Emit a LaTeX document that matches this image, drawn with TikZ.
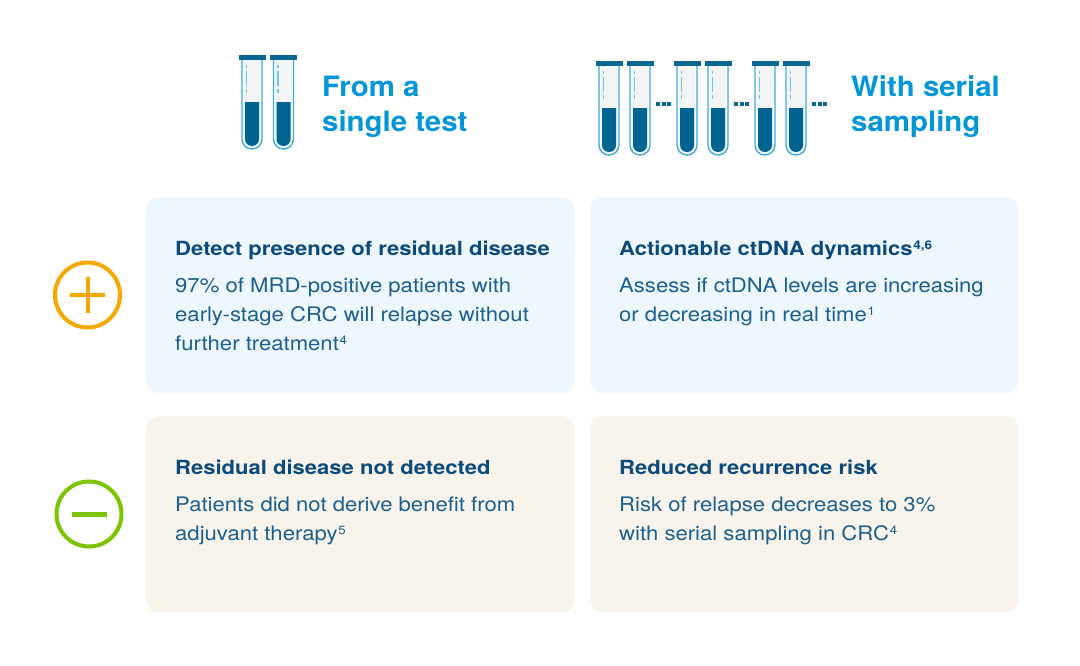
\documentclass[tikz,border=0pt]{standalone}
\usepackage{fontspec}
\setmainfont{TeX Gyre Heros}[FakeStretch=1.105]
\newfontfamily\titlefont{TeX Gyre Heros}[FakeStretch=1.13]
\newfontfamily\headfont{TeX Gyre Heros}[FakeStretch=1.05]
\definecolor{headblue}{HTML}{0096D8}
\definecolor{titleblue}{HTML}{0B4A7C}
\definecolor{bodyblue}{HTML}{1A5F8F}
\definecolor{boxblue}{HTML}{EEF7FD}
\definecolor{boxbeige}{HTML}{F8F4EC}
\definecolor{plusorange}{HTML}{F5A800}
\definecolor{minusgreen}{HTML}{7DC400}
\definecolor{capteal}{HTML}{0A6790}
\definecolor{liquidteal}{HTML}{006492}
\definecolor{glassline}{HTML}{3DAAE2}
\definecolor{glassfill}{HTML}{F2F4F6}
\definecolor{shine}{HTML}{6EC5EE}
\newcommand{\supnum}[1]{\kern0.8pt\raisebox{6pt}{\fontsize{12}{12}\selectfont #1}}
\tikzset{
  head/.style={font=\headfont\fontsize{28}{35}\selectfont\bfseries, text=headblue, inner sep=0pt, anchor=base west},
  title/.style={font=\titlefont\fontsize{19.5}{24}\selectfont\bfseries, text=titleblue, inner sep=0pt, anchor=base west},
  body/.style={font=\fontsize{20}{29}\selectfont, text=bodyblue, inner sep=0pt, anchor=base west},
  panel/.style={rounded corners=12pt, minimum width=428pt, minimum height=196pt, anchor=north west, inner sep=0pt},
  signring/.style={circle, line width=4pt, minimum size=65pt, inner sep=0pt},
  tubecap/.style={fill=capteal},
  tubeliquid/.style={fill=liquidteal},
  tubeglass/.style={fill=glassfill},
  tubeline/.style={draw=glassline, line width=1.4pt},
  tubeshine/.style={draw=shine, line width=1.3pt, dash pattern=on 3pt off 3pt on 15pt off 3pt on 4pt},
  testtube/.pic={
    \fill[tubeglass] (-8,5) -- (-8,84) arc[start angle=180,end angle=360,radius=8pt] -- (8,5) -- cycle;
    \fill[tubeliquid] (-7,47) -- (-7,84) arc[start angle=180,end angle=360,radius=7pt] -- (7,47) -- cycle;
    \draw[tubeline] (-10,5) -- (-10,84) arc[start angle=180,end angle=360,radius=10pt] -- (10,5);
    \draw[tubeshine] (-5.5,10) -- (-5.5,41);
    \fill[tubecap] (-13.5,0) rectangle (13.5,5);
  },
  dots/.pic={
    \fill[capteal] (0,0) rectangle (4,4);
    \fill[capteal] (5.5,0) rectangle (9.5,4);
    \fill[capteal] (11,0) rectangle (15,4);
  }
}
\begin{document}
\begin{tikzpicture}[x=1pt,y=-1pt]
\useasboundingbox[fill=white] (0,0) rectangle (1080,665);

% test tubes
\pic at (252,55) {testtube};
\pic at (283.5,55) {testtube};
\foreach \cx in {609,640,687,718,765,796} {\pic at (\cx,61) {testtube};}
\pic at (656,102) {dots};
\pic at (734,102) {dots};
\pic at (812,102) {dots};

% headings
\node[head] (h1a) at (322,96) {From a};
\node[head] (h1b) at (322,131) {single test};
\node[head] (h2a) at (851,96) {With serial};
\node[head] (h2b) at (851,131) {sampling};

% panels
\node[panel, fill=boxblue] (p1) at (146,197) {};
\node[panel, fill=boxblue] (p2) at (590,197) {};
\node[panel, fill=boxbeige] (p3) at (146,416) {};
\node[panel, fill=boxbeige] (p4) at (590,416) {};

% signs
\node[signring, draw=plusorange] (plus) at (87.5,295) {};
\draw[plusorange, line width=4pt] ([xshift=-17.5pt]plus.center) -- ([xshift=17.5pt]plus.center);
\draw[plusorange, line width=4pt] ([yshift=-18pt]plus.center) -- ([yshift=18pt]plus.center);
\node[signring, draw=minusgreen] (minus) at (89,514) {};
\draw[minusgreen, line width=5pt] ([xshift=-17.5pt]minus.center) -- ([xshift=17.5pt]minus.center);

% panel 1
\node[title] (t1) at (175,255) {Detect presence of residual disease};
\node[body] (t1a) at (175,292) {97\% of MRD-positive patients with};
\node[body] (t1b) at (175,321) {early-stage CRC will relapse without};
\node[body] (t1c) at (175,350) {further treatment\supnum{4}};

% panel 2
\node[title] (t2) at (619,255) {Actionable ctDNA dynamics\supnum{\bfseries 4,6}};
\node[body] (t2a) at (619,292) {Assess if ctDNA levels are increasing};
\node[body] (t2b) at (619,321) {or decreasing in real time\supnum{1}};

% panel 3
\node[title] (t3) at (175,474) {Residual disease not detected};
\node[body] (t3a) at (175,511) {Patients did not derive benefit from};
\node[body] (t3b) at (175,540) {adjuvant therapy\supnum{5}};

% panel 4
\node[title] (t4) at (619,474) {Reduced recurrence risk};
\node[body] (t4a) at (619,511) {Risk of relapse decreases to 3\%};
\node[body] (t4b) at (619,540) {with serial sampling in CRC\supnum{4}};
\end{tikzpicture}
\end{document}
